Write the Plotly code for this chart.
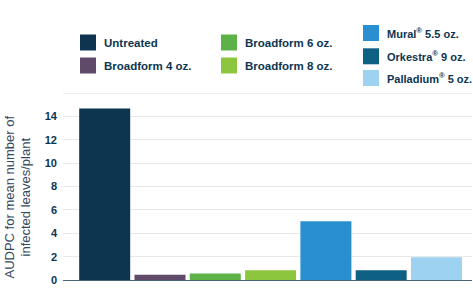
import plotly.graph_objects as go

# ---- data ----
treatments = ["Untreated", "Broadform 4 oz.", "Broadform 6 oz.", "Broadform 8 oz.",
              "Mural® 5.5 oz.", "Orkestra® 9 oz.", "Palladium® 5 oz."]
legend_labels = ["Untreated", "Broadform 4 oz.", "Broadform 6 oz.", "Broadform 8 oz.",
                 "Mural<sup>®</sup> 5.5 oz.", "Orkestra<sup>®</sup> 9 oz.", "Palladium<sup>®</sup> 5 oz."]
audpc = [14.7, 0.45, 0.55, 0.83, 5.03, 0.84, 1.94]
tick_vals = [0, 2, 4, 6, 8, 10, 12, 14]
tick_text = ["0", "2", "4", "6", "8", "10", "12", "14"]
top_grid = 16
y_title = "AUDPC for mean number of<br>infected leaves/plant"

# ---- styles ----
colors = ["#0d354f", "#5f4a6a", "#5db247", "#8cc63f", "#2a8fd0", "#0f6183", "#9dd3f1"]
text_color = "#0d3550"
FONT = "Liberation Sans, Arial, sans-serif"

W, H = 473, 297
L, R, T, B = 63, 472, 93, 280  # plot area in pixels
PW, PH = R - L, B - T

def px(x):
    return (x - L) / PW

def py(y):
    return (B - y) / PH

fig = go.Figure()
fig.add_trace(go.Bar(
    x=treatments, y=audpc,
    marker=dict(color=colors, line=dict(width=0)),
    showlegend=False, hoverinfo="x+y",
))

# legend layout: (swatch left px, row center y px, font size)
legend_pos = [(80, 42.5, 11.5), (80, 65.5, 11.5), (221, 42.5, 11.5), (221, 65.5, 11.5),
              (363, 33, 11), (363, 56.3, 11), (363, 78, 11)]
SW = 16
GAP = 6
shapes = [dict(type="line", xref="paper", yref="y", x0=0, x1=1, y0=top_grid, y1=top_grid,
               line=dict(color="#e8e8e8", width=1), layer="below")]
annotations = []
for lab, col, (sx, cy, fs) in zip(legend_labels, colors, legend_pos):
    shapes.append(dict(type="rect", xref="paper", yref="paper",
                       x0=px(sx), x1=px(sx + SW), y0=py(cy + SW / 2), y1=py(cy - SW / 2),
                       fillcolor=col, line=dict(width=0), layer="above"))
    annotations.append(dict(xref="paper", yref="paper", x=px(sx + SW + GAP), y=py(cy),
                            xanchor="left", yanchor="middle", showarrow=False,
                            text="<b>" + lab + "</b>",
                            font=dict(family=FONT, size=fs, color=text_color)))

annotations.append(dict(xref="paper", yref="paper", x=px(17.5), y=py(197),
                        xanchor="center", yanchor="middle", showarrow=False,
                        textangle=-90, text=y_title,
                        font=dict(family=FONT, size=13, color="#33495e")))

fig.update_layout(
    width=W, height=H,
    margin=dict(l=L, r=W - R, t=T, b=H - B, pad=0),
    paper_bgcolor="white", plot_bgcolor="white",
    bargap=0.078,
    shapes=shapes, annotations=annotations,
    xaxis=dict(range=[-0.754, 6.642], showticklabels=False, ticks="",
               showline=True, linecolor="#4b6475", linewidth=1.2,
               showgrid=False, zeroline=False, fixedrange=True),
    yaxis=dict(range=[0, 16.02], tickvals=tick_vals, ticktext=tick_text,
               showgrid=True, gridcolor="#e8e8e8", gridwidth=1,
               zeroline=False, showline=False, ticks="",
               ticklabelstandoff=5,
               tickfont=dict(family=FONT, size=11, color=text_color, weight="bold")),
)

fig.write_html("out.html")
